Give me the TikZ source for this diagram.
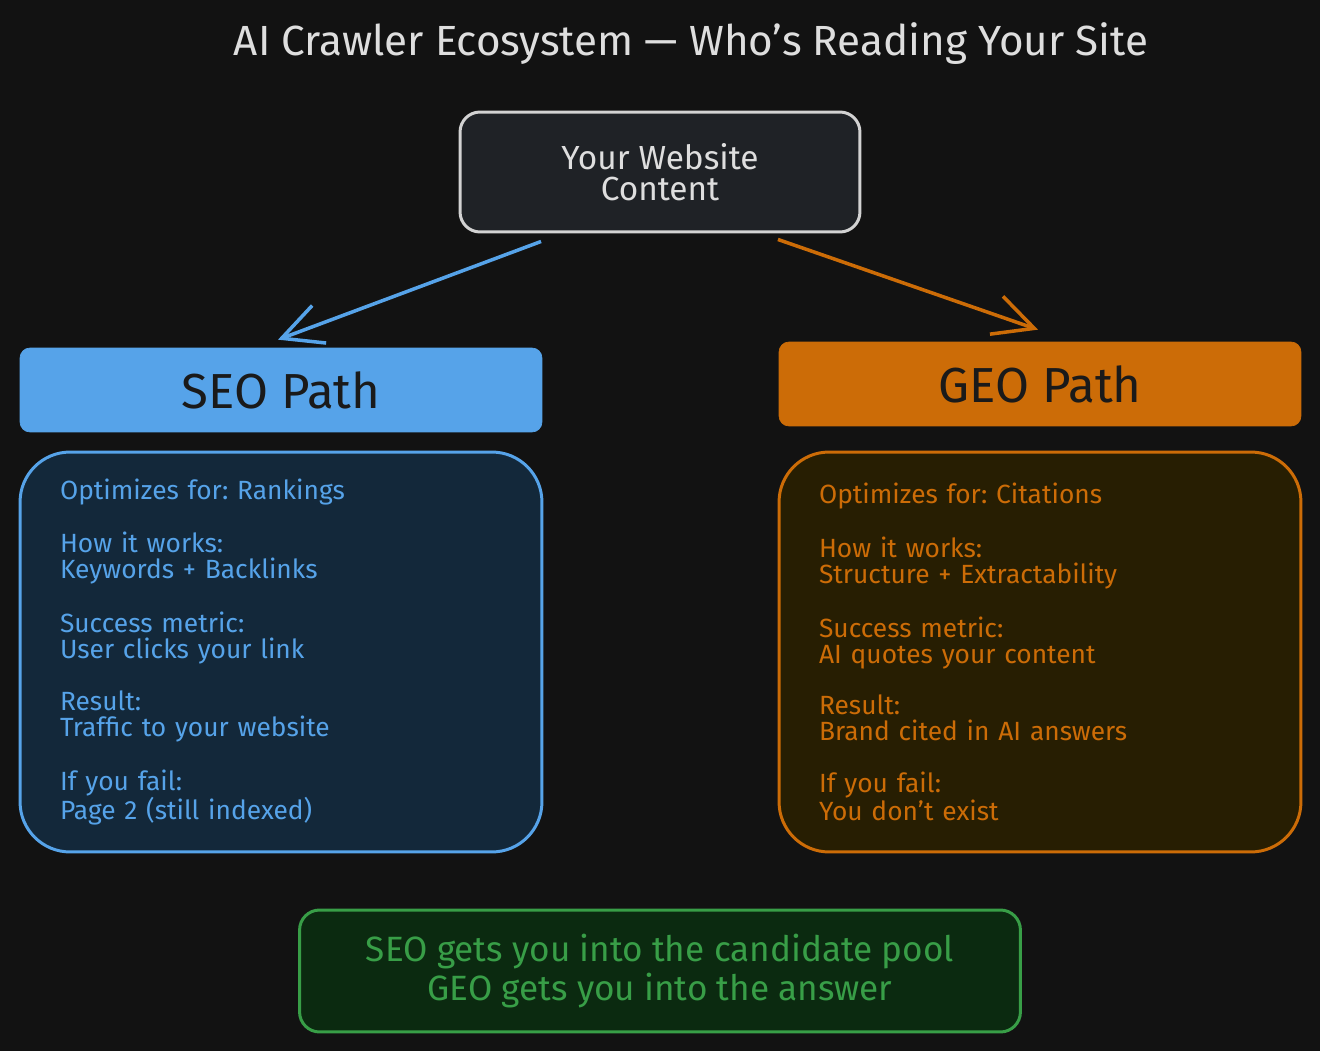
\documentclass[tikz,border=0pt]{standalone}
\usepackage{fontspec}
\setmainfont{Fira Sans}
\usetikzlibrary{arrows.meta}
\frenchspacing

\definecolor{bgcol}{HTML}{121212}
\definecolor{titlecol}{HTML}{DEDEDE}
\definecolor{webfill}{HTML}{1F2226}
\definecolor{webline}{HTML}{D2D2D2}
\definecolor{seoblue}{HTML}{56A3E9}
\definecolor{seofill}{HTML}{13283A}
\definecolor{geoorange}{HTML}{CC6C07}
\definecolor{geofill}{HTML}{271E02}
\definecolor{sumgreen}{HTML}{389E47}
\definecolor{sumfill}{HTML}{0B2A10}
\definecolor{pathtext}{HTML}{1A1A1A}

\begin{document}
\begin{tikzpicture}[x=0.02cm, y=-0.02cm,
    headbox/.style={rounded corners=0.2cm, minimum width=10.44cm, minimum height=1.68cm,
        text=pathtext, font=\fontsize{28}{32}\selectfont},
    infobox/.style={draw, line width=1.7pt, rounded corners=1cm, minimum width=10.44cm, minimum height=8cm,
        text width=8.84cm, inner xsep=0.8cm, align=left, font=\fontsize{15}{14.74}\selectfont},
    link/.style={line width=2pt, -{Straight Barb[length=8mm,width=8mm]}}]

        % Background
        \fill[bgcol] (0,0) rectangle (1320,1051);

        % Title
        \node[text=titlecol, font=\fontsize{24}{28}\selectfont] (title) at (691,44) {AI Crawler Ecosystem — Who's Reading Your Site};

        % Website
        \node[draw=webline, fill=webfill, line width=1.7pt, rounded corners=0.4cm, minimum width=8cm, minimum height=2.4cm,
            text=titlecol, align=center, font=\fontsize{19}{17.5}\selectfont] (web) at (660,172) {Your Website\\Content};

        % Path headers
        \node[headbox, fill=seoblue, draw=seoblue] (seo) at (281,390) {SEO Path};
        \node[headbox, fill=geoorange, draw=geoorange] (geo) at (1040,384) {GEO Path};

        % Arrows
        \draw[link, seoblue] ([xshift=-2.38cm, yshift=-0.16cm]web.south) -- ([xshift=-0.06cm, yshift=0.16cm]seo.north);
        \draw[link, geoorange] ([xshift=2.36cm, yshift=-0.12cm]web.south) -- ([xshift=-0.04cm, yshift=0.24cm]geo.north);

        % Details
        \node[infobox, draw=seoblue, fill=seofill, text=seoblue] (seoinfo) at (281,652) {%
            Optimizes for: Rankings\\[14.74pt]
            How it works:\\ Keywords + Backlinks\\[14.74pt]
            Success metric:\\ User clicks your link\\[14.74pt]
            Result:\\ Traffic to your website\\[14.74pt]
            If you fail:\\ Page 2 (still indexed)};
        \node[infobox, draw=geoorange, fill=geofill, text=geoorange] (geoinfo) at (1040,652) {%
            Optimizes for: Citations\\[14.74pt]
            How it works:\\ Structure + Extractability\\[14.74pt]
            Success metric:\\ AI quotes your content\\[14.74pt]
            Result:\\ Brand cited in AI answers\\[14.74pt]
            If you fail:\\ You don't exist};

        % Summary
        \node[draw=sumgreen, fill=sumfill, text=sumgreen, line width=1.7pt, rounded corners=0.4cm, minimum width=14.42cm,
            minimum height=2.44cm, align=center, font=\fontsize{20}{22.7}\selectfont] (summary) at (660,971)
            {SEO gets you into the candidate pool\\GEO gets you into the answer};
    \end{tikzpicture}
\end{document}
